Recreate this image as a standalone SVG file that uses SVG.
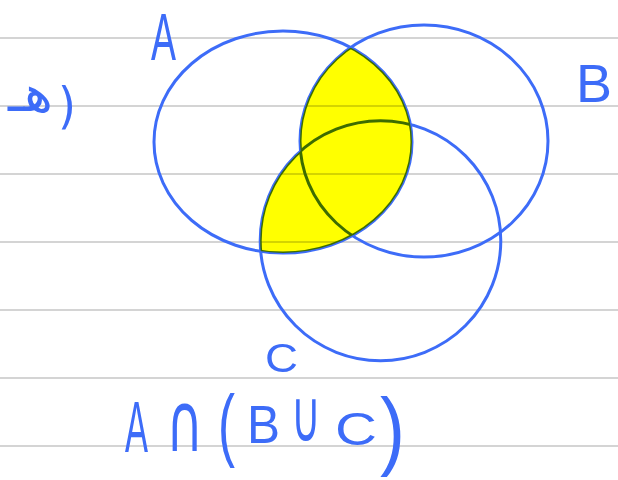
<svg xmlns="http://www.w3.org/2000/svg" width="618" height="480" viewBox="0 0 618 480">
<style>
.rule{stroke:#c6c6c6;stroke-width:1.5}
.set{fill:none;stroke:#3d6cf8;stroke-width:3}
.hand{fill:#3d6cf8;font-family:"Liberation Sans","DejaVu Sans",sans-serif}
.math{font-family:"DejaVu Sans","Liberation Sans",sans-serif}
.ar{fill:#3d6cf8;font-family:"DejaVu Sans","Noto Sans",sans-serif}
</style>
<defs>
<clipPath id="clipA"><ellipse cx="283" cy="142" rx="129" ry="111"/></clipPath>
</defs>
<rect width="618" height="480" fill="#fff"/>
<g id="ruling">
<line class="rule" x1="0" y1="38" x2="618" y2="38"/>
<line class="rule" x1="0" y1="106" x2="618" y2="106"/>
<line class="rule" x1="0" y1="174" x2="618" y2="174"/>
<line class="rule" x1="0" y1="242" x2="618" y2="242"/>
<line class="rule" x1="0" y1="310" x2="618" y2="310"/>
<line class="rule" x1="0" y1="378" x2="618" y2="378"/>
<line class="rule" x1="0" y1="446" x2="618" y2="446"/>
</g>
<g id="setA"><ellipse class="set" cx="283" cy="142" rx="129" ry="111"/></g>
<g id="setB"><ellipse class="set" cx="424" cy="141" rx="124" ry="116"/></g>
<g id="setC"><ellipse class="set" cx="380.5" cy="240.7" rx="120.3" ry="120"/></g>
<g id="shaded" clip-path="url(#clipA)" style="mix-blend-mode:multiply">
<ellipse cx="424" cy="141" rx="124" ry="116" fill="#ffff00"/>
<ellipse cx="380.5" cy="240.7" rx="120.3" ry="120" fill="#ffff00"/>
</g>
<g id="labelA"><text class="hand" x="151" y="60" font-size="66" textLength="25" lengthAdjust="spacingAndGlyphs">A</text></g>
<g id="labelB"><text class="hand" x="576" y="102" font-size="54" textLength="36" lengthAdjust="spacingAndGlyphs">B</text></g>
<g id="labelC"><text class="hand" x="265" y="372" font-size="41" textLength="33" lengthAdjust="spacingAndGlyphs">C</text></g>
<g id="itemLabel"><text class="ar"><tspan x="8" y="111" font-size="50" textLength="45" lengthAdjust="spacingAndGlyphs">هـ</tspan><tspan x="58" y="123" font-size="50" textLength="18" lengthAdjust="spacingAndGlyphs">)</tspan></text></g>
<g id="expression"><text class="hand"><tspan x="125" y="452" font-size="72" textLength="23" lengthAdjust="spacingAndGlyphs">A</tspan><tspan class="math" x="166" y="451" font-size="82" textLength="37" lengthAdjust="spacingAndGlyphs">∩</tspan><tspan x="218" y="451" font-size="80" textLength="17" lengthAdjust="spacingAndGlyphs">(</tspan><tspan x="247" y="443" font-size="53" textLength="33" lengthAdjust="spacingAndGlyphs">B</tspan><tspan class="math" x="291" y="441" font-size="72" textLength="30" lengthAdjust="spacingAndGlyphs">∪</tspan><tspan x="335" y="445" font-size="46" textLength="42" lengthAdjust="spacingAndGlyphs">C</tspan><tspan x="380" y="459" font-size="88" textLength="25" lengthAdjust="spacingAndGlyphs">)</tspan></text></g>
</svg>
